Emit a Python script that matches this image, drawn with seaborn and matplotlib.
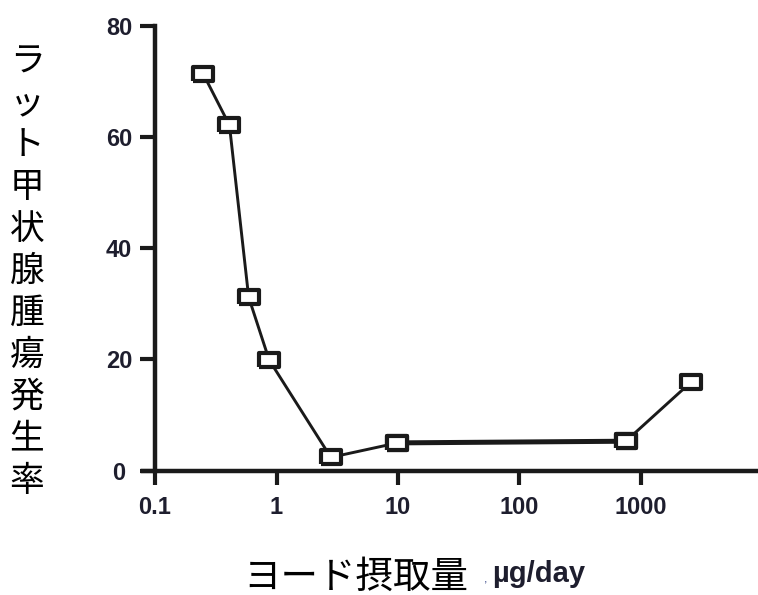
import matplotlib
matplotlib.use("Agg")
import matplotlib.pyplot as plt
import seaborn as sns
import pandas as pd

# values
dose = [0.25, 0.41, 0.59, 0.87, 2.8, 9.9, 750, 2600]     # µg/day
rate = [71.3, 62.1, 31.2, 19.9, 2.4, 5.0, 5.3, 16.0]     # incidence
x_ticks = [0.1, 1, 10, 100, 1000]
x_tick_labels = ["0.1", "1", "10", "100", "1000"]
y_ticks = [0, 20, 40, 60, 80]
y_label = "ラット甲状腺腫瘍発生率"
x_label = "ヨード摂取量"
x_unit = "µg/day"

df = pd.DataFrame({"dose": dose, "rate": rate})

sns.set_style("white")
plt.rcParams["font.family"] = ["Liberation Sans", "DejaVu Sans"]
cjk = ["Noto Sans CJK JP", "DejaVu Sans"]
ink = "#1a1a1a"
label_ink = "#1e1e2e"

W, H = 758, 595
fig = plt.figure(figsize=(W / 100, H / 100), dpi=100)
fig.patch.set_facecolor("white")
ax = fig.add_axes([143 / W, 1 - 470.7 / H, 615 / W, 445 / H])
ax.set_xscale("log")

# wide open rectangle like the GraphPad marker
rect = [(-1.45, -1), (1.45, -1), (1.45, 1), (-1.45, 1), (-1.45, -1)]
marker_kws = dict(marker=rect, markersize=14, markerfacecolor="white",
                  markeredgecolor=ink, markeredgewidth=3.0)

sns.lineplot(data=df, x="dose", y="rate", ax=ax, color=ink, linewidth=2.1,
             clip_on=False, zorder=3, **marker_kws)
# the flat plateau segment is drawn heavier in the original
sns.lineplot(data=df.iloc[5:7], x="dose", y="rate", ax=ax, color=ink,
             linewidth=3.6, zorder=2, clip_on=False)
# re-draw markers on top of the heavy segment
sns.lineplot(data=df.iloc[5:7], x="dose", y="rate", ax=ax, color=ink,
             linewidth=0, zorder=4, clip_on=False, **marker_kws)

ax.set_xlim(10 ** -1.0988, 10 ** 3.963)
ax.set_ylim(0, 80)
ax.set_xticks(x_ticks)
ax.set_xticklabels(x_tick_labels)
ax.xaxis.set_minor_locator(matplotlib.ticker.NullLocator())
ax.set_yticks(y_ticks)
ax.set_xlabel("")
ax.set_ylabel("")

for side in ["top", "right"]:
    ax.spines[side].set_visible(False)
for side in ["left", "bottom"]:
    ax.spines[side].set_linewidth(3.2)
    ax.spines[side].set_color(ink)
ax.spines["left"].set_position(("data", 0.1))

ax.tick_params(axis="both", which="major", direction="out", width=3.0,
               color=ink, labelsize=17, labelcolor=label_ink,
               bottom=True, left=True)
ax.tick_params(axis="y", length=11, pad=15)
ax.tick_params(axis="x", length=10, pad=8)
for lbl in ax.get_yticklabels() + ax.get_xticklabels():
    lbl.set_fontweight("bold")
for lbl in ax.get_yticklabels():
    lbl.set_horizontalalignment("center")

# stacked vertical y-axis title, one character per row
top_c, bot_c = 62, 481
n = len(y_label)
for i, ch in enumerate(y_label):
    yc = top_c + (bot_c - top_c) * i / (n - 1)
    fig.text(27 / W, 1 - yc / H, ch, family=cjk, fontsize=25, color="black",
             ha="center", va="center")

fig.text(243 / W, 1 - 577 / H, x_label, family=cjk, fontsize=27,
         color="black", ha="left", va="center")
fig.text(484 / W, 1 - 580 / H, ",", fontsize=9, color="#3a4a8a",
         ha="left", va="center")
fig.text(492 / W, 1 - 574 / H, x_unit, fontsize=21, fontweight="bold",
         color=label_ink, ha="left", va="center")

fig.savefig("out.png", dpi=100)
